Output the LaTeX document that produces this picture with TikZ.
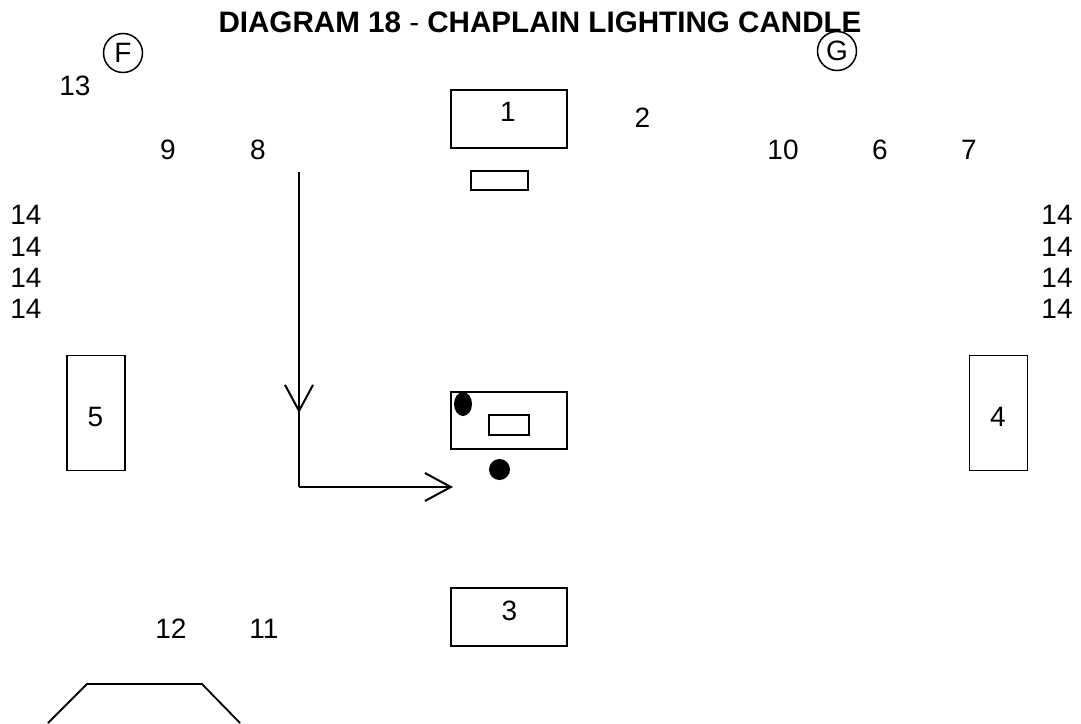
\documentclass[tikz,border=0pt]{standalone}
\usepackage{fontspec}
\setmainfont{Liberation Sans}
\usetikzlibrary{arrows.meta,decorations.markings,shapes.geometric}
\tikzset{barbtip/.tip={Straight Barb[length=26pt,width=28pt,line width=2pt]}}
\begin{document}
\begin{tikzpicture}[x=1pt,y=-1pt,
  lbl/.style={inner sep=0pt,font=\fontsize{28}{28}\selectfont},
  box/.style={draw,line width=1.8pt,inner sep=0pt},
  circ/.style={draw,circle,line width=1.5pt,inner sep=0pt,minimum size=39pt,font=\fontsize{28}{28}\selectfont},
  conn/.style={line width=2.2pt}
]
\useasboundingbox (0,0) rectangle (1081,723);
% title
\node[inner sep=0pt,font=\fontsize{29.6}{29.6}\selectfont\bfseries] (title) at (540,22.5) {DIAGRAM 18 {\mdseries -} CHAPLAIN LIGHTING CANDLE};
% circles
\node[circ] (F) at (123,53) {F};
\node[circ] (G) at (837,51) {G};
% labels
\node[lbl] (n13) at (75,86) {13};
\node[lbl] (n9) at (168,150) {9};
\node[lbl] (n8) at (258,150) {8};
\node[lbl] (n2) at (642.5,117.5) {2};
\node[lbl] (n10) at (783,150) {10};
\node[lbl] (n6) at (880,150) {6};
\node[lbl] (n7) at (969,150) {7};
\node[lbl] (l14a) at (26,215) {14};
\node[lbl] (l14b) at (26,246.7) {14};
\node[lbl] (l14c) at (26,278.3) {14};
\node[lbl] (l14d) at (26,309) {14};
\node[lbl] (r14a) at (1057,215) {14};
\node[lbl] (r14b) at (1057,246.7) {14};
\node[lbl] (r14c) at (1057,278.3) {14};
\node[lbl] (r14d) at (1057,309) {14};
\node[lbl] (n12) at (171,628.5) {12};
\node[lbl] (n11) at (264,628.5) {11};
% boxes
\node[box,minimum width=116pt,minimum height=58pt] (b1) at (509,119) {};
\node[lbl] (b1t) at (508,111.5) {1};
\node[box,minimum width=57pt,minimum height=19pt] (b1s) at (499.5,180.5) {};
\node[box,minimum width=58pt,minimum height=115pt] (b5) at (96,413) {};
\node[lbl] (b5t) at (95.5,416.5) {5};
\node[box,minimum width=58pt,minimum height=115pt] (b4) at (998.5,413) {};
\node[lbl] (b4t) at (998,416.5) {4};
\node[box,minimum width=116pt,minimum height=57pt] (alt) at (509,420.5) {};
\node[box,minimum width=40pt,minimum height=20pt] (candle) at (509,425) {};
\node[box,minimum width=116pt,minimum height=58pt] (b3) at (509,617) {};
\node[lbl] (b3t) at (509.5,610.5) {3};
\node[fill=black,ellipse,minimum width=18pt,minimum height=24pt,inner sep=0pt] (e1) at (463,404) {};
\node[fill=black,circle,minimum size=21pt,inner sep=0pt] (e2) at (499.5,469.5) {};
% trapezoid
\coordinate (t1) at (48,723);
\coordinate (t2) at (87,684);
\coordinate (t3) at (202,684);
\coordinate (t4) at (240,723);
\draw[line width=1.8pt] (t1) -- (t2) -- (t3) -- (t4);
% arrow path
\coordinate (start) at (299,172);
\coordinate (corner) at (299,487);
\coordinate (end) at (453,487);
\draw[conn,postaction={decorate},decoration={markings,mark=at position 241pt with {\arrow{barbtip}}}] (start) -- (corner);
\draw[conn,-{barbtip}] (corner) -- (end);
\end{tikzpicture}
\end{document}
